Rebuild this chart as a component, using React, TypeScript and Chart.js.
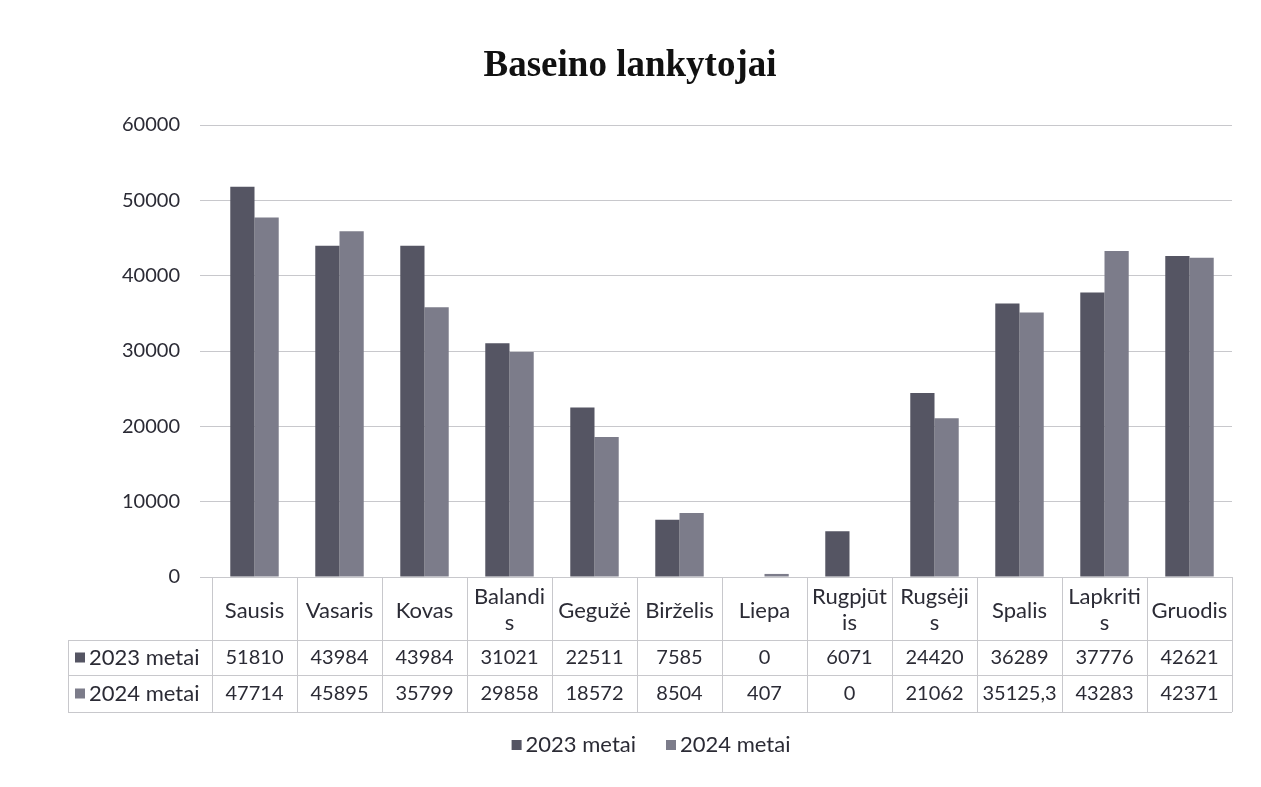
import React, { useEffect, useRef } from "react";
import { Chart, registerables } from "chart.js";

Chart.register(...registerables);

const chartTitle = "Baseino lankytojai";
const months = [
  "Sausis", "Vasaris", "Kovas", "Balandi\ns", "Gegužė", "Birželis",
  "Liepa", "Rugpjūt\nis", "Rugsėji\ns", "Spalis", "Lapkriti\ns", "Gruodis",
];
const seriesNames = ["2023 metai", "2024 metai"];
const values2023 = [51810, 43984, 43984, 31021, 22511, 7585, 0, 6071, 24420, 36289, 37776, 42621];
const values2024 = [47714, 45895, 35799, 29858, 18572, 8504, 407, 0, 21062, 35125.3, 43283, 42371];
const yTicks = [0, 10000, 20000, 30000, 40000, 50000, 60000];

const COLOR_2023 = "#555563";
const COLOR_2024 = "#7c7c8a";
const TEXT = "#2b2b35";
const LINE = "#c8c8cc";
const FONT = "Lato, 'Open Sans', sans-serif";

const tablePlugin = {
  id: "dataTable",
  afterDraw(chart: any) {
    const ctx = chart.ctx;
    const x = chart.scales.x;
    const area = chart.chartArea;
    const top = area.bottom;
    const headerBottom = top + 63;
    const row1Bottom = headerBottom + 35;
    const row2Bottom = row1Bottom + 37;
    const leftEdge = 68;
    const n = months.length;
    const half = (x.getPixelForValue(1) - x.getPixelForValue(0)) / 2;
    const bounds: number[] = [];
    for (let i = 0; i < n; i++) bounds.push(x.getPixelForValue(i) - half);
    bounds.push(x.getPixelForValue(n - 1) + half);

    ctx.save();
    // title
    ctx.fillStyle = "#111";
    ctx.font = "bold 37px 'Liberation Serif', serif";
    ctx.textAlign = "center";
    ctx.textBaseline = "middle";
    ctx.fillText(chartTitle, 630, 66);

    ctx.strokeStyle = LINE;
    ctx.lineWidth = 1;
    ctx.beginPath();
    for (let i = 0; i < bounds.length; i++) {
      const bx = Math.round(bounds[i]) + 0.5;
      ctx.moveTo(bx, top);
      ctx.lineTo(bx, row2Bottom);
    }
    const lx = leftEdge + 0.5;
    ctx.moveTo(lx, headerBottom);
    ctx.lineTo(lx, row2Bottom);
    for (const y of [headerBottom, row1Bottom, row2Bottom]) {
      const yy = Math.round(y) + 0.5;
      ctx.moveTo(leftEdge, yy);
      ctx.lineTo(bounds[bounds.length - 1], yy);
    }
    ctx.stroke();

    ctx.fillStyle = TEXT;
    ctx.font = `22px ${FONT}`;
    ctx.textAlign = "center";
    ctx.textBaseline = "middle";
    const headerMid = (top + headerBottom) / 2;
    for (let i = 0; i < n; i++) {
      const cx = (bounds[i] + bounds[i + 1]) / 2;
      const lines = months[i].split("\n");
      if (lines.length === 1) {
        ctx.fillText(lines[0], cx, headerMid + 2);
      } else {
        ctx.fillText(lines[0], cx, headerMid - 12);
        ctx.fillText(lines[1], cx, headerMid + 14);
      }
    }
    const rows = [
      { name: seriesNames[0], vals: values2023, color: COLOR_2023, mid: (headerBottom + row1Bottom) / 2 },
      { name: seriesNames[1], vals: values2024, color: COLOR_2024, mid: (row1Bottom + row2Bottom) / 2 },
    ];
    for (const r of rows) {
      ctx.font = `20px ${FONT}`;
      for (let i = 0; i < n; i++) {
        const cx = (bounds[i] + bounds[i + 1]) / 2;
        ctx.fillStyle = TEXT;
        ctx.textAlign = "center";
        ctx.fillText(String(r.vals[i]).replace(".", ","), cx, r.mid);
      }
      ctx.font = `22px ${FONT}`;
      ctx.fillStyle = r.color;
      ctx.fillRect(75, r.mid - 5, 10, 10);
      ctx.fillStyle = TEXT;
      ctx.textAlign = "left";
      ctx.fillText(r.name, 89, r.mid);
    }

    // legend
    ctx.font = `22px ${FONT}`;
    ctx.textAlign = "left";
    const ly = 745;
    const gap = 30;
    const w1 = ctx.measureText(seriesNames[0]).width;
    const w2 = ctx.measureText(seriesNames[1]).width;
    const total = 14 + w1 + gap + 14 + w2;
    let lxp = 651 - total / 2;
    const colors = [COLOR_2023, COLOR_2024];
    const widths = [w1, w2];
    for (let k = 0; k < 2; k++) {
      ctx.fillStyle = colors[k];
      ctx.fillRect(lxp, ly - 5, 10, 10);
      ctx.fillStyle = TEXT;
      ctx.fillText(seriesNames[k], lxp + 14, ly);
      lxp += 14 + widths[k] + gap;
    }
    ctx.restore();
  },
};

export default function App() {
  const ref = useRef<HTMLCanvasElement>(null);
  useEffect(() => {
    if (!ref.current) return;
    const chart = new Chart(ref.current, {
      type: "bar",
      data: {
        labels: months.map((m) => m.replace("\n", "")),
        datasets: [
          { label: seriesNames[0], data: values2023, backgroundColor: COLOR_2023 },
          { label: seriesNames[1], data: values2024, backgroundColor: COLOR_2024 },
        ],
      },
      options: {
        animation: false,
        responsive: true,
        maintainAspectRatio: false,
        layout: { padding: { left: 0, right: 29, top: 125, bottom: 70 } },
        datasets: { bar: { barPercentage: 1, categoryPercentage: 0.57 } },
        plugins: {
          title: { display: false },
          legend: { display: false },
          tooltip: { enabled: false },
        },
        scales: {
          x: {
            grid: { display: false },
            border: { display: false },
            ticks: { display: false },
            afterFit(scale: any) {
              scale.height = 140;
            },
          },
          y: {
            min: 0,
            max: 60000,
            afterBuildTicks(scale: any) {
              scale.ticks = yTicks.map((v) => ({ value: v }));
            },
            afterFit(scale: any) {
              scale.width = 212;
            },
            grid: { color: LINE, tickLength: 12, drawTicks: true },
            border: { display: false },
            ticks: {
              color: TEXT,
              font: { family: FONT, size: 20 },
              padding: 20,
              callback: (v: any) => String(v),
            },
          },
        },
      },
      plugins: [tablePlugin],
    });
    return () => chart.destroy();
  }, []);
  return (
    <div style={{ position: "absolute", left: 0, top: 0, width: 1261, height: 787, background: "#fff" }}>
      <canvas ref={ref} />
    </div>
  );
}
